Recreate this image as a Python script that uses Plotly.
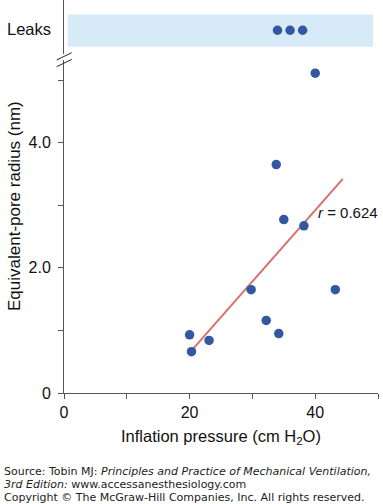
import plotly.graph_objects as go

# Data
pressure = [20.0, 20.3, 23.1, 29.8, 32.2, 34.2, 33.8, 35.0, 38.2, 40.0, 43.2]
radius = [0.93, 0.66, 0.84, 1.65, 1.16, 0.95, 3.65, 2.77, 2.67, 5.11, 1.65]
leak_pressure = [34.0, 36.0, 38.0]
leak_level = [0.44, 0.44, 0.44]
fit_x = [20.4, 44.4]
fit_y = [0.69, 3.42]
r_text = "<i>r</i> = 0.624"
x_ticks = [0, 20, 40]
x_ticktext = ["0", "20", "40"]
x_minor = [10, 30, 50]
y_ticks = [0, 2, 4]
y_ticktext = ["0", "2.0", "4.0"]
y_minor = [1, 3, 5]

BLUE = "#3457a2"
RED = "#d9706e"
BAND = "#d6eaf8"
AX = "#555555"
FONT = "Liberation Sans, Arial, sans-serif"
TXT = "#111111"

W, H = 383, 504
L, R, T, B = 64, 5, 0, 111
PW, PH = W - L - R, H - T - B

def px(x):
    return (x - L) / PW

def py(y):
    return (PH - y) / PH

fig = go.Figure()
fig.add_trace(go.Scatter(x=fit_x, y=fit_y, mode="lines",
                         line=dict(color=RED, width=2), xaxis="x", yaxis="y",
                         hoverinfo="skip"))
fig.add_trace(go.Scatter(x=pressure, y=radius, mode="markers",
                         marker=dict(color=BLUE, size=9.5), xaxis="x", yaxis="y"))
fig.add_trace(go.Scatter(x=leak_pressure, y=leak_level, mode="markers",
                         marker=dict(color=BLUE, size=9.5), xaxis="x", yaxis="y2"))

fig.add_shape(type="rect", xref="x", yref="y2", x0=0.6, x1=49.2, y0=0.135, y1=0.73,
              fillcolor=BAND, line=dict(width=0), layer="below")

# axis break marks
for y0, y1 in [(60, 52.7), (66.7, 59.4)]:
    fig.add_shape(type="line", xref="paper", yref="paper",
                  x0=px(56.7), x1=px(71.7), y0=py(y0), y1=py(y1),
                  line=dict(color="#222222", width=1))

fig.add_annotation(x=40.2, y=2.88, xref="x", yref="y", text=r_text, showarrow=False,
                   xanchor="left", yanchor="middle", font=dict(size=15, color=TXT, family=FONT))
fig.add_annotation(x=px(53), y=py(29), xref="paper", yref="paper", text="Leaks", showarrow=False,
                   xanchor="right", yanchor="middle", font=dict(size=16.5, color=TXT, family=FONT))
fig.add_annotation(x=px(14), y=py(206), xref="paper", yref="paper",
                   text="Equivalent-pore radius (nm)", textangle=-90, showarrow=False,
                   xanchor="center", yanchor="middle", font=dict(size=17, color=TXT, family=FONT))
fig.add_annotation(x=0.5, y=py(437), xref="paper", yref="paper",
                   text="Inflation pressure (cm H<sub>2</sub>O)", showarrow=False,
                   xanchor="center", yanchor="middle", font=dict(size=16.5, color=TXT, family=FONT))

foot = dict(family="DejaVu Sans, Verdana, sans-serif", size=11, color="#222222")
for yy, txt in [(471, "Source: Tobin MJ: <i>Principles and Practice of Mechanical Ventilation,</i>"),
                (484.5, "<i>3rd Edition:</i> www.accessanesthesiology.com"),
                (497.5, "Copyright © The McGraw-Hill Companies, Inc. All rights reserved.")]:
    fig.add_annotation(x=px(2), y=py(yy), xref="paper", yref="paper", text=txt, showarrow=False,
                       xanchor="left", yanchor="middle", font=foot)

fig.update_layout(
    width=W, height=H,
    margin=dict(l=L, r=R, t=T, b=B),
    paper_bgcolor="white", plot_bgcolor="white",
    showlegend=False,
    font=dict(family=FONT, size=16, color=TXT),
    xaxis=dict(range=[0, 50], domain=[0, 1], tickvals=x_ticks, ticktext=x_ticktext,
               ticks="outside", ticklen=5, tickcolor=AX, showline=True, linecolor=AX,
               linewidth=1, showgrid=False, zeroline=False, anchor="y",
               minor=dict(tickvals=x_minor, ticks="outside", ticklen=5, tickcolor=AX, showgrid=False),
               tickfont=dict(size=16, family=FONT, color=TXT)),
    yaxis=dict(range=[0, 5.32], domain=[0, py(60)], tickvals=y_ticks, ticktext=y_ticktext,
               ticks="outside", ticklen=5, tickcolor=AX, showline=True, linecolor=AX,
               linewidth=1, showgrid=False, zeroline=False, anchor="x",
               ticklabelstandoff=4,
               minor=dict(tickvals=y_minor, ticks="outside", ticklen=5, tickcolor=AX, showgrid=False),
               tickfont=dict(size=16, family=FONT, color=TXT)),
    yaxis2=dict(range=[0, 1], domain=[py(54), 1], showticklabels=False, ticks="",
                showline=True, linecolor=AX, linewidth=1, showgrid=False, zeroline=False,
                anchor="x"),
)

fig.write_html("out.html", config={"displayModeBar": False},
               post_script="document.body.style.margin='0';document.body.style.overflow='hidden';")
